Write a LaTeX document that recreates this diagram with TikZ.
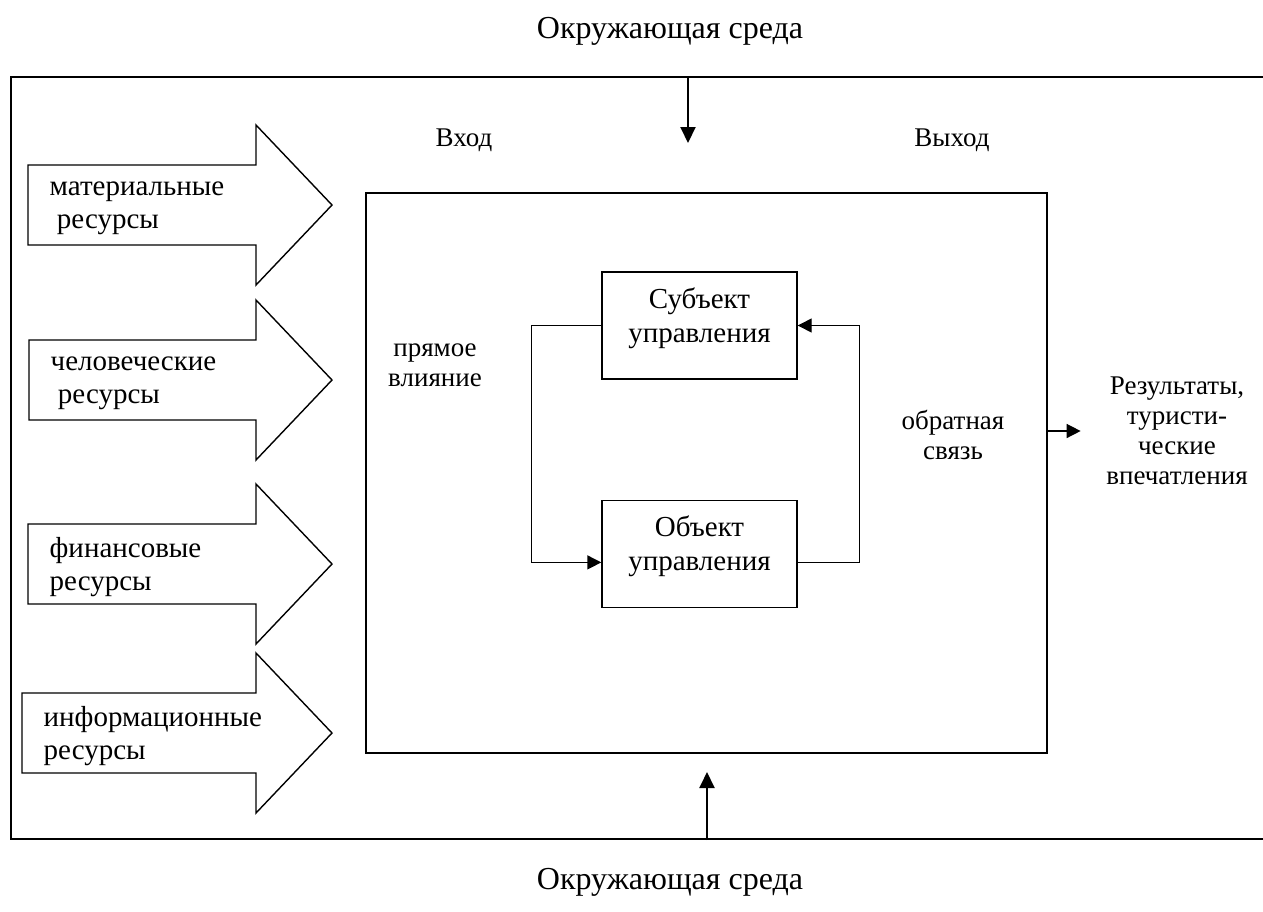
\documentclass[tikz,border=0pt]{standalone}
\usepackage{fontspec}
\setmainfont{Liberation Serif}
\usetikzlibrary{arrows.meta, positioning, calc}

\begin{document}
\begin{tikzpicture}[x=0.5pt, y=-0.5pt, line width=0.7pt,
    txt/.style={inner sep=0pt, align=center, font=\fontsize{13.5pt}{15pt}\selectfont},
    bigtxt/.style={txt, font=\fontsize{14.5pt}{16.5pt}\selectfont},
    envtxt/.style={txt, font=\fontsize{16pt}{18pt}\selectfont},
    box/.style={draw, rectangle, minimum width=97.5pt, minimum height=53.5pt},
    boxtxt/.style={txt, font=\fontsize{14.5pt}{17pt}\selectfont, yshift=3.75pt},
    flow/.style={-{Triangle[length=7pt, width=7pt]}},
    envarr/.style={line width=1pt, -{Triangle[length=8pt, width=7.5pt]}}]
    \useasboundingbox (0,0) rectangle (1263,911);

    % Environment
    \node[draw, line width=1pt, anchor=north west, minimum width=632.5pt, minimum height=381pt] (env) at (10,76) {};
    \node[envtxt] (envtop) at (670,31) {Окружающая среда};
    \node[envtxt] (envbot) at (670,882) {Окружающая среда};
    \coordinate (toptip) at (688,143);
    \coordinate (bottip) at (707,772);
    \draw[envarr] (env.north -| toptip) -- (toptip);
    \draw[envarr] (env.south -| bottip) -- (bottip);

    % System
    \node[draw, rectangle, minimum width=340.5pt, minimum height=280pt] (sys) at (706.5,473) {};
    \node[txt] (in) at (464,140) {Вход};
    \node[txt] (out) at (952,140) {Выход};

    % Resources
    \foreach \y/\x/\lbl/\nm in {205/28/{материальные\\~ресурсы}/mat,
                                380/29/{человеческие\\~ресурсы}/hum,
                                564/28/{финансовые\\ресурсы}/fin,
                                733/22/{информационные\\ресурсы}/inf}{
        \draw (\x,{\y-40}) -- (256,{\y-40}) -- (256,{\y-80}) -- (332,\y) -- (256,{\y+80}) -- (256,{\y+40}) -- (\x,{\y+40}) -- cycle;
        \node[bigtxt, align=left, anchor=west] (\nm) at ({\x+21},{\y+3}) {\lbl};
    }

    % Control loop
    \node[box, label={[boxtxt]center:{Субъект\\управления}}] (subj) at (699.5,325.5) {};
    \node[box, below=60pt of subj, label={[boxtxt]center:{Объект\\управления}}] (obj) {};
    \draw[flow] (subj.west) -- ++(-70,0) |- ([yshift=-4.25pt]obj.west);
    \draw[flow] ([yshift=-4.25pt]obj.east) -- ++(62,0) |- (subj.east);
    \node[txt] (direct) at (435,365) {прямое\\влияние};
    \node[txt] (feedback) at (953,435) {обратная\\связь};

    % Output
    \node[txt] (result) at (1177,431) {Результаты,\\туристи-\\ческие\\впечатления};
    \draw[flow, shorten >=12.5pt] (sys.east |- result.west) -- (result.west);
\end{tikzpicture}
\end{document}
